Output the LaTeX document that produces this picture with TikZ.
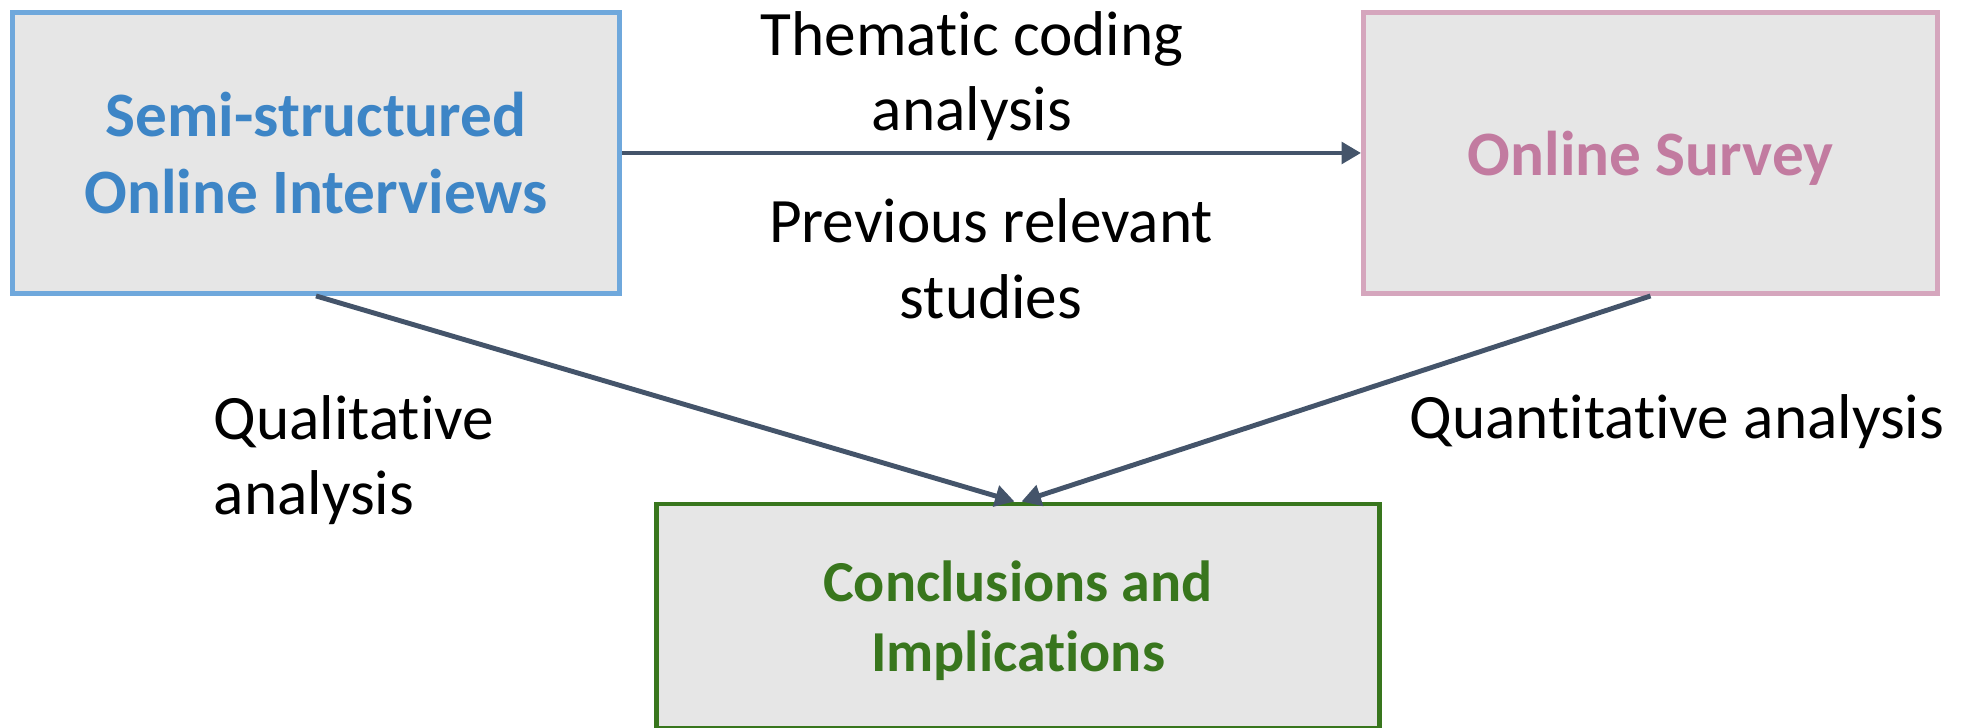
\documentclass[tikz,border=0pt]{standalone}
\usepackage{fontspec}
\setmainfont[RawFeature={-liga;-clig;-calt;-dlig}]{Carlito}
\usepackage{xcolor}
\usepackage{tikz}
\usetikzlibrary{arrows.meta}

\definecolor{ivblue}{HTML}{3D85C6}
\definecolor{ivline}{HTML}{6FA8DC}
\definecolor{svpink}{HTML}{C27BA0}
\definecolor{svline}{HTML}{D5A6BD}
\definecolor{ccgreen}{HTML}{38761D}
\definecolor{linkgray}{HTML}{44546A}
\definecolor{boxgray}{HTML}{E6E6E6}

\begin{document}
\begin{tikzpicture}[>={Triangle[length=5.5pt, width=6pt]},
    font=\fontsize{18pt}{21.5pt}\selectfont,
    stage/.style={draw, line width=1.4pt, fill=boxgray, align=center,
                  font=\fontsize{18pt}{22pt}\selectfont\bfseries},
    link/.style={->, line width=1.4pt, linkgray}]

\useasboundingbox (0, 0) rectangle (19.67, 7.28);

% ── Stages ────────────────────────────────────────────────────────
\node[stage, draw=ivline, text=ivblue,
      minimum width=6.07cm, minimum height=2.81cm] (interviews) at (3.16, 5.75)
      {Semi-structured\\Online Interviews};

\node[stage, draw=svline, text=svpink, text depth=0pt,
      minimum width=5.74cm, minimum height=2.81cm] (survey) at (16.505, 5.75)
      {Online Survey};

\node[stage, draw=ccgreen, text=ccgreen, text depth=0pt,
      font=\fontsize{16.5pt}{20pt}\selectfont\bfseries,
      minimum width=7.23cm, minimum height=2.24cm] (concl) at (10.18, 1.12)
      {Conclusions and\\Implications};

% ── Links ─────────────────────────────────────────────────────────
\draw[link] (interviews.east) -- (survey.west);
\draw[link] (interviews.south) -- ([xshift=-1pt]concl.north);
\draw[link] (survey.south) -- ([xshift=1pt]concl.north);

% ── Labels ────────────────────────────────────────────────────────
\node[align=center] (thematic) at (9.72, 6.52) {Thematic coding\\analysis};
\node[align=center] (previous) at (9.91, 4.69) {Previous relevant\\studies};
\node[align=left, anchor=west, inner sep=0pt] (qual) at (2.13, 2.68)
    {Qualitative\\analysis};
\node[anchor=west, inner sep=0pt] (quant) at (14.09, 3.06) {Quantitative analysis};

\end{tikzpicture}
\end{document}
